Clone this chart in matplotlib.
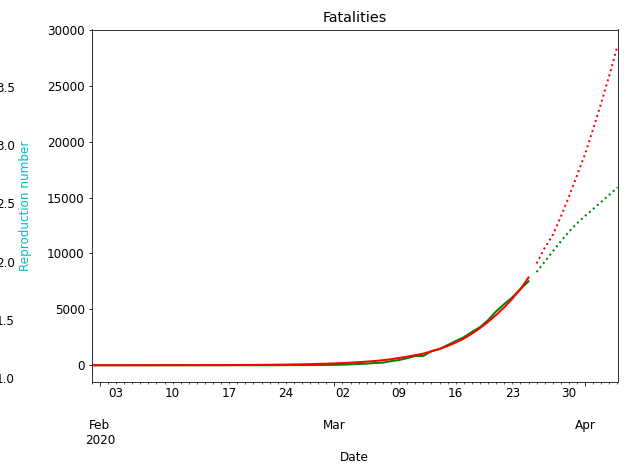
import matplotlib
matplotlib.use("Agg")
import matplotlib.pyplot as plt
import matplotlib.dates as mdates
import matplotlib.ticker as mticker
import pandas as pd
import numpy as np

plt.rcParams['font.size'] = 12

# ---- data ----
actual_dates = pd.date_range("2020-01-31", "2020-03-25", freq="D")
pred_dates = pd.date_range("2020-03-26", "2020-04-05", freq="D")

observed = [0]*21 + [1, 2, 3, 7, 10, 12, 17, 21, 29] + [
    34, 52, 79, 107, 148, 197, 233, 366, 463, 631, 827, 827, 1266, 1441,
    1809, 2158, 2503, 2978, 3405, 4032, 4825, 5476, 6077, 6820, 7503]

fitted = [0, 0, 1, 1, 1, 2, 2, 3, 3, 4, 5, 6, 7, 9, 11,
          12, 14, 17, 20, 24, 29, 34, 41, 49, 58, 70, 83, 99, 118, 140,
          165, 195, 230, 275, 325, 380, 450, 540, 650, 770, 900, 1040, 1240,
          1460, 1720, 2030, 2380, 2820, 3320, 3880, 4500, 5180, 5950, 6800, 7850]

pred_green = [8330, 9250, 10180, 11080, 11950, 12700, 13350, 13980, 14620, 15250, 15900]
pred_red = [9100, 10500, 11650, 13300, 15100, 17000, 18900, 21150, 23500, 25950, 28600]

repro_ticks = [1.0, 1.5, 2.0, 2.5, 3.0, 3.5]

title = "Fatalities"
xlabel = "Date"
repro_label = "Reproduction number"

# ---- figure ----
W, H, DPI = 626, 469, 72
fig = plt.figure(figsize=(W / DPI, H / DPI), dpi=DPI)

left, right, top, bottom = 91.7, 617.5, 29.5, 382.0
ax = fig.add_axes([left / W, 1 - bottom / H, (right - left) / W, (bottom - top) / H])

# neighbour panel's twin axis (partially outside figure)
ax0 = fig.add_axes([-0.4, 1 - bottom / H, 0.4 - 11 / W, (bottom - top) / H])
ax0.set_ylim(0.966, 3.991)
ax0.set_yticks(repro_ticks)
ax0.yaxis.tick_right()
ax0.yaxis.set_label_position("right")
ax0.set_ylabel(repro_label, color="c")
ax0.set_xticks([])

ax.plot(actual_dates, observed, color="g", lw=2)
ax.plot(actual_dates, fitted, color="r", lw=2)
ax.plot(pred_dates, pred_red, color="r", ls=":", lw=2)
ax.plot(pred_dates, pred_green, color="g", ls=":", lw=2)

ax.set_xlim(actual_dates[0], pred_dates[-1])
ax.set_ylim(-1500, 30030)
ax.set_title(title, pad=8)
ax.set_xlabel(xlabel)

month_starts = [pd.Timestamp("2020-02-01"), pd.Timestamp("2020-03-01"), pd.Timestamp("2020-04-01")]
ax.xaxis.set_major_locator(mticker.FixedLocator([mdates.date2num(d) for d in month_starts]))
def major_fmt(x, pos):
    d = mdates.num2date(x)
    if d.month == 2:
        return "\n\n%s\n%d" % (d.strftime("%b"), d.year)
    return "\n\n" + d.strftime("%b")
ax.xaxis.set_major_formatter(mticker.FuncFormatter(major_fmt))
ax.xaxis.set_minor_locator(mdates.DayLocator())
def minor_fmt(x, pos):
    d = mdates.num2date(x)
    if d.weekday() == 0:
        return d.strftime("%d")
    return ""
ax.xaxis.set_minor_formatter(mticker.FuncFormatter(minor_fmt))

fig.savefig("out.png", dpi=DPI)
